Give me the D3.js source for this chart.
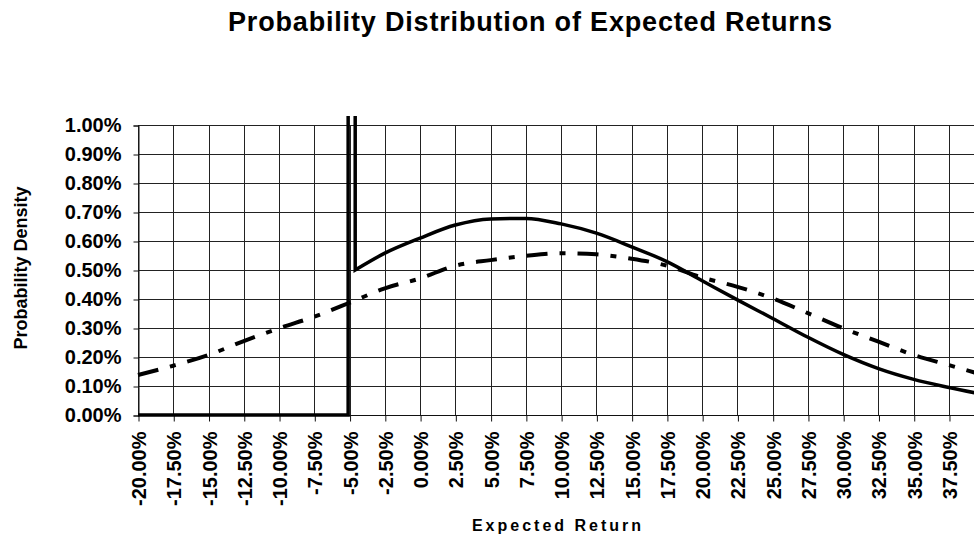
<!DOCTYPE html>
<html>
<head>
<meta charset="utf-8">
<script src="https://cdn.jsdelivr.net/npm/d3@7"></script>
<style>
  html, body { margin: 0; padding: 0; background: #fff; }
  svg { display: block; }
  text { font-family: "Liberation Sans", Arial, sans-serif; fill: #000; }
</style>
</head>
<body>
<svg id="chart" width="974" height="535"></svg>
<script>
// Expected return (%) at each labelled tick on the x axis
const xTickValues = [-20, -17.5, -15, -12.5, -10, -7.5, -5, -2.5, 0, 2.5, 5, 7.5, 10,
                     12.5, 15, 17.5, 20, 22.5, 25, 27.5, 30, 32.5, 35, 37.5];
// Probability density tick values (%)
const yTickValues = [0, 0.1, 0.2, 0.3, 0.4, 0.5, 0.6, 0.7, 0.8, 0.9, 1.0];

// Truncated distribution: no mass below -5%, a point mass at -5% (off scale),
// then a continuous density from just above -5%
const solidHeadReturns = [-20, -5.1, -5.1, -4.6, -4.6];
const solidHeadDensity = [0, 0, 10, 10, 0.50];
const solidReturns = [-4.6, -2.5, 0, 2.5, 5, 7.5, 10, 12.5, 15, 17.5, 20, 22.5,
                      25, 27.5, 30, 32.5, 35, 37.5, 40];
const solidDensity = [0.50, 0.558, 0.610, 0.655, 0.676, 0.678, 0.659, 0.627, 0.580,
                      0.529, 0.463, 0.397, 0.333, 0.268, 0.209, 0.160, 0.123, 0.095, 0.070];

// Untruncated distribution (dash-dot line)
const dashReturns = [-20, -17.5, -15, -12.5, -10, -7.5, -5, -2.5, 0, 2.5, 5, 7.5, 10,
                     12.5, 15, 17.5, 20, 22.5, 25, 27.5, 30, 32.5, 35, 37.5, 40];
const dashDensity = [0.138, 0.170, 0.207, 0.255, 0.299, 0.339, 0.387, 0.437, 0.471,
                     0.515, 0.534, 0.549, 0.558, 0.554, 0.539, 0.515, 0.474, 0.442,
                     0.402, 0.351, 0.299, 0.253, 0.207, 0.172, 0.137];

const W = 974, H = 535;
const plotLeft = 138, plotTop = 125, plotBottom = 415;
const svg = d3.select("#chart");

svg.append("rect").attr("width", W).attr("height", H).attr("fill", "#fff");

const x = d3.scaleLinear().domain([-20, 40]).range([plotLeft, plotLeft + 24 * 35.26]);
const y = d3.scaleLinear().domain([0, 1.0]).range([plotBottom, plotTop]);

const fmt = d => d.toFixed(2) + "%";

// Gridlines
const grid = svg.append("g").attr("stroke", "#222").attr("stroke-width", 1);
grid.selectAll("line.h").data(yTickValues).join("line")
  .attr("x1", plotLeft).attr("x2", W)
  .attr("y1", d => Math.round(y(d)) + 0.5).attr("y2", d => Math.round(y(d)) + 0.5);
grid.selectAll("line.v").data(xTickValues).join("line")
  .attr("y1", plotTop).attr("y2", plotBottom)
  .attr("x1", d => Math.round(x(d)) + 0.5).attr("x2", d => Math.round(x(d)) + 0.5);

// Y axis
const yAxis = svg.append("g")
  .attr("transform", `translate(${plotLeft + 0.5},0.5)`)
  .call(d3.axisLeft(y).tickValues(yTickValues).tickFormat(fmt).tickSize(5).tickPadding(12));
yAxis.select(".domain").attr("stroke", "#111");
yAxis.selectAll(".tick line").attr("stroke", "#111");
yAxis.selectAll(".tick text")
  .attr("font-size", 20).attr("font-weight", "bold")
  .attr("font-family", "Liberation Sans, Arial, sans-serif").attr("fill", "#000");

// X axis
const xAxis = svg.append("g")
  .attr("transform", `translate(0.5,${plotBottom + 0.5})`)
  .call(d3.axisBottom(x).tickValues(xTickValues).tickFormat(fmt).tickSize(6).tickSizeOuter(0));
xAxis.select(".domain").attr("stroke", "#111").attr("d", `M${plotLeft},0H${W}`);
xAxis.selectAll(".tick line").attr("stroke", "#111");
xAxis.selectAll(".tick text")
  .attr("font-size", 20).attr("font-weight", "bold")
  .attr("font-family", "Liberation Sans, Arial, sans-serif").attr("fill", "#000")
  .attr("text-anchor", "end")
  .attr("transform", "translate(0,16) rotate(-90)")
  .attr("x", 0).attr("y", 0).attr("dy", "0.35em");

// Clip for the series (lines run a little above the plot top before being cut)
svg.append("clipPath").attr("id", "plotClip")
  .append("rect").attr("x", plotLeft - 4).attr("y", plotTop - 9)
  .attr("width", W - plotLeft + 10).attr("height", plotBottom - plotTop + 14);

const series = svg.append("g").attr("clip-path", "url(#plotClip)").attr("fill", "none");

// Dash-dot series
const dashLine = d3.line().x(d => x(d[0])).y(d => y(d[1])).curve(d3.curveMonotoneX);
series.append("path")
  .attr("d", dashLine(d3.zip(dashReturns, dashDensity)))
  .attr("stroke", "#000").attr("stroke-width", 4)
  .attr("stroke-dasharray", "21,12,6,12");

// Solid series: straight head segments followed by the smooth density
const headLine = d3.line().x(d => x(d[0])).y(d => y(d[1]));
const tailLine = d3.line().x(d => x(d[0])).y(d => y(d[1])).curve(d3.curveMonotoneX);
const tailPath = tailLine(d3.zip(solidReturns, solidDensity)).replace(/^M[^LC]*/, "");
series.append("path")
  .attr("d", headLine(d3.zip(solidHeadReturns, solidHeadDensity)) + tailPath)
  .attr("stroke", "#000").attr("stroke-width", 3.5)
  .attr("stroke-linejoin", "miter");

// Titles
svg.append("text")
  .attr("x", 530).attr("y", 31).attr("text-anchor", "middle")
  .attr("font-size", 27).attr("font-weight", "bold")
  .attr("textLength", 604).attr("lengthAdjust", "spacing")
  .text("Probability Distribution of Expected Returns");

svg.append("text")
  .attr("transform", "translate(27,268) rotate(-90)")
  .attr("text-anchor", "middle")
  .attr("font-size", 18).attr("font-weight", "bold")
  .text("Probability Density");

svg.append("text")
  .attr("x", 558).attr("y", 531).attr("text-anchor", "middle")
  .attr("font-size", 16).attr("font-weight", "bold")
  .attr("letter-spacing", 3)
  .text("Expected Return");
</script>
</body>
</html>
